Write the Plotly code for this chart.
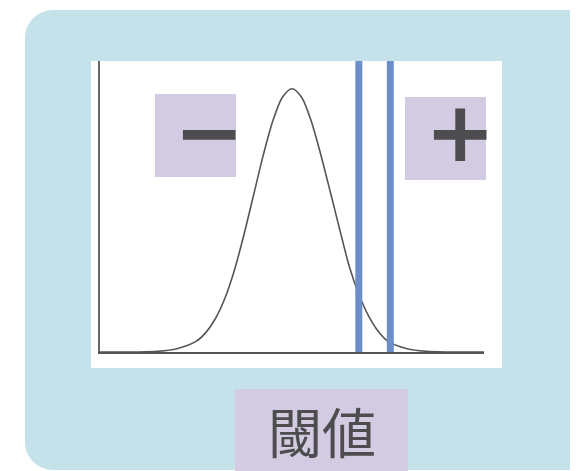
import plotly.graph_objects as go

# normal curve (x in sigma units, y = density)
curve_x = [-5, -4, -3.5, -3, -2.5, -2.25, -2, -1.75, -1.5, -1.25, -1, -0.75, -0.5, -0.25,
           0, 0.25, 0.5, 0.75, 1, 1.25, 1.5, 1.75, 2, 2.25, 2.5, 3, 3.5, 4, 5]
curve_y = [0.0, 0.0, 0.001, 0.005, 0.016, 0.029, 0.050, 0.081, 0.124, 0.178, 0.238,
           0.298, 0.350, 0.386, 0.399, 0.386, 0.350, 0.299, 0.242, 0.184, 0.128,
           0.086, 0.054, 0.031, 0.016, 0.005, 0.001, 0.0, 0.0]

# the two threshold lines
thresholds = [1.74, 2.56]

label_text = '閾値'
minus_text = '\u2212'
plus_text = '+'

# the page puts the figure 8px in from the top-left corner
OFF = 8
W, H = 578 - OFF, 471 - OFF
# plot area, in window pixels
L, R, T, B = 100, 484, 61, 352

BG_BLUE = '#c5e2eb'
BOX_PURPLE = '#d3cbe1'
DARK = '#4d4d4f'
LINE_BLUE = '#6b8fc6'


def px(x):
    return (x - L) / (R - L)


def py(y):
    return (B - y) / (B - T)


def rounded_rect(x0, y0, x1, y1, r_tl, r_tr, r_br, r_bl):
    k = 0.5523
    pts = [
        ('M', [(x0 + r_tl, y0)]),
        ('L', [(x1 - r_tr, y0)]),
        ('C', [(x1 - r_tr + k * r_tr, y0), (x1, y0 + r_tr - k * r_tr), (x1, y0 + r_tr)]),
        ('L', [(x1, y1 - r_br)]),
        ('C', [(x1, y1 - r_br + k * r_br), (x1 - r_br + k * r_br, y1), (x1 - r_br, y1)]),
        ('L', [(x0 + r_bl, y1)]),
        ('C', [(x0 + r_bl - k * r_bl, y1), (x0, y1 - r_bl + k * r_bl), (x0, y1 - r_bl)]),
        ('L', [(x0, y0 + r_tl)]),
        ('C', [(x0, y0 + r_tl - k * r_tl), (x0 + r_tl - k * r_tl, y0), (x0 + r_tl, y0)]),
    ]
    path = ''
    for cmd, coords in pts:
        path += cmd + ' '.join('%.5f,%.5f' % (px(a), py(b)) for a, b in coords) + ' '
    return path + 'Z'


def box(x0, y0, x1, y1, color):
    return dict(type='rect', xref='paper', yref='paper', layer='below',
                x0=px(x0), x1=px(x1), y0=py(y1), y1=py(y0),
                fillcolor=color, line=dict(width=0))


fig = go.Figure()
fig.add_trace(go.Scatter(x=curve_x, y=curve_y, mode='lines',
                         line=dict(color='#555555', width=1.6, shape='spline', smoothing=0.8),
                         hoverinfo='skip'))

shapes = [
    dict(type='path', xref='paper', yref='paper', layer='below',
         path=rounded_rect(25, 10, 588, 470, 28, 21, 0, 28),
         fillcolor=BG_BLUE, line=dict(width=0)),
    box(91, 61, 502, 368, 'white'),
    box(155, 94, 236, 177, BOX_PURPLE),
    box(405, 97, 486, 180, BOX_PURPLE),
    box(235, 389, 408, 480, BOX_PURPLE),
]
for t in thresholds:
    shapes.append(dict(type='line', xref='x', yref='paper', layer='above',
                       x0=t, x1=t, y0=0, y1=1,
                       line=dict(color=LINE_BLUE, width=7)))

annotations = [
    dict(text=minus_text, xref='paper', yref='paper', x=px(209), y=py(131.5),
         xanchor='center', yanchor='middle', showarrow=False,
         font=dict(family='DejaVu Sans', size=84, color=DARK, weight='bold')),
    dict(text=plus_text, xref='paper', yref='paper', x=px(459.5), y=py(132),
         xanchor='center', yanchor='middle', showarrow=False,
         font=dict(family='DejaVu Sans', size=84, color=DARK, weight='bold')),
    dict(text=label_text, xref='paper', yref='paper', x=px(321.5), y=py(430),
         xanchor='center', yanchor='middle', showarrow=False,
         font=dict(family='Noto Sans CJK JP', size=54, color=DARK)),
]

fig.update_layout(
    width=W, height=H,
    margin=dict(l=L - OFF, r=W - (R - OFF), t=T - OFF, b=H - (B - OFF)),
    paper_bgcolor='white',
    plot_bgcolor='rgba(0,0,0,0)',
    showlegend=False,
    shapes=shapes,
    annotations=annotations,
)
fig.update_xaxes(range=[-5, 5], showline=True, linecolor='#555555', linewidth=2,
                 showgrid=False, zeroline=False, showticklabels=False, ticks='')
fig.update_yaxes(range=[0, 0.441], showline=True, linecolor='#666666', linewidth=1.5,
                 showgrid=False, zeroline=False, showticklabels=False, ticks='')

fig.write_html("out.html")
